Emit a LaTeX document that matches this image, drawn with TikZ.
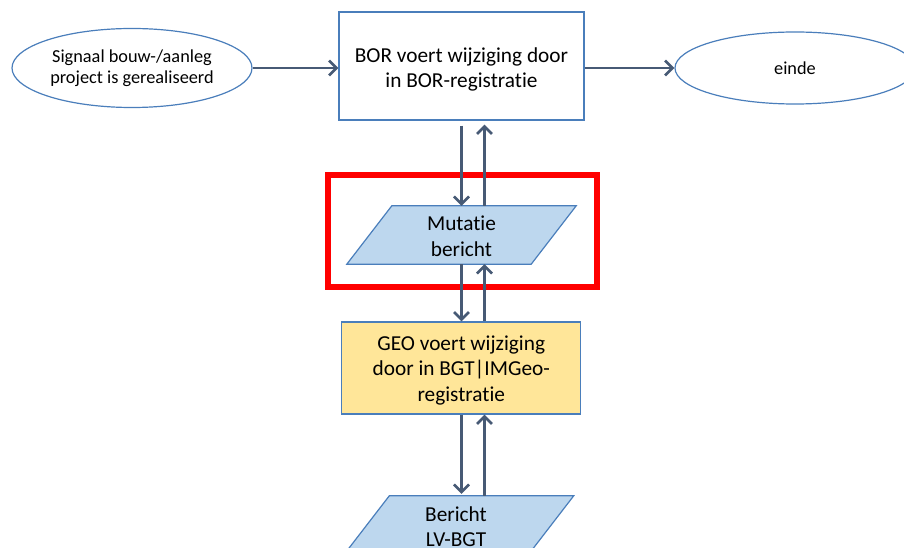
\documentclass[tikz,border=0pt]{standalone}
\usepackage{fontspec}
\setmainfont{Carlito}[Ligatures=NoCommon]
\usetikzlibrary{shapes.geometric,arrows.meta,calc}

\definecolor{shapeblue}{HTML}{4A7EBB}
\definecolor{flowarrow}{HTML}{475A75}
\definecolor{msgfill}{HTML}{BDD7EE}
\definecolor{geofill}{HTML}{FFE699}

\tikzset{
  bigtext/.style={font=\fontsize{21.3}{25.5}\selectfont, align=center},
  smalltext/.style={font=\fontsize{18.3}{21}\selectfont, align=center},
  eventnode/.style={ellipse, draw=shapeblue, line width=1.2pt, fill=white, inner sep=0pt, smalltext},
  procbox/.style={rectangle, draw=shapeblue, line width=1.2pt, inner sep=0pt, bigtext},
  msgnode/.style={rectangle, draw=none, inner sep=0pt, minimum width=184pt, minimum height=58pt, bigtext},
  msgshape/.style={fill=msgfill, draw=shapeblue, line width=1.2pt},
  flow/.style={draw=flowarrow, line width=2.8pt, -{Straight Barb[length=7.5pt,width=15pt,line width=2.6pt]}},
  highlight/.style={rectangle, draw=red, line width=6pt, inner sep=0pt}
}

\begin{document}
\begin{tikzpicture}[x=1pt, y=-1pt]
  \useasboundingbox (0,0) rectangle (904,548);
  \clip (0,0) rectangle (904,548);

  % start and end events
  \node[eventnode, minimum width=240pt, minimum height=79pt] (sig) at (132,68)
    {Signaal bouw-/aanleg\\project is gerealiseerd};
  \node[eventnode, minimum width=240pt, minimum height=72pt] (einde) at (795,68) {einde};

  % process steps
  \node[procbox, minimum width=245pt, minimum height=108pt] (bor) at (461.5,66) {};
  \node[bigtext] (bortext) at ($(bor.center)+(0,3.5)$) {BOR voert wijziging door\\in BOR-registratie};
  \node[procbox, fill=geofill, minimum width=239pt, minimum height=92pt] (geo) at (461.25,368) {};
  \node[bigtext] (geotext) at ($(geo.center)+(0,2)$) {GEO voert wijziging\\door in BGT|IMGeo-\\registratie};

  % messages: parallelograms drawn around text nodes
  \node[msgnode] (mut) at (461.5,235) {};
  \path[msgshape]
    ([xshift=22.5pt]mut.north west) -- ([xshift=22.5pt]mut.north east)
    -- ([xshift=-22.5pt]mut.south east) -- ([xshift=-22.5pt]mut.south west) -- cycle;
  \node[bigtext] (muttext) at ($(mut.center)+(0,1.5)$) {Mutatie\\bericht};

  \node[msgnode] (ber) at (459,525) {};
  \path[msgshape]
    ([xshift=22.5pt]ber.north west) -- ([xshift=22.5pt]ber.north east)
    -- ([xshift=-22.5pt]ber.south east) -- ([xshift=-22.5pt]ber.south west) -- cycle;
  \node[bigtext] (bertext) at ($(ber.center)+(-3,1.5)$) {Bericht\\LV-BGT};

  % highlight frame
  \node[highlight, minimum width=269pt, minimum height=112.5pt] (hl) at (462.5,231) {};

  % horizontal flows
  \draw[flow] (sig.east) -- (sig.east -| bor.west);
  \draw[flow] (bor.east |- einde.west) -- (einde.west);

  % vertical flows
  \draw[flow, shorten <=5pt] (bor.south) -- (bor.south |- mut.north);
  \draw[flow, shorten >=4pt] ([xshift=23pt]bor.south |- mut.north) -- ([xshift=23pt]bor.south);
  \draw[flow] (bor.south |- mut.south) -- (bor.south |- geo.north);
  \draw[flow] ([xshift=23pt]bor.south |- geo.north) -- ([xshift=23pt]bor.south |- mut.south);
  \draw[flow, shorten >=2pt] (bor.south |- geo.south) -- (bor.south |- ber.north);
  \draw[flow] ([xshift=23pt]bor.south |- ber.north) -- ([xshift=23pt]bor.south |- geo.south);
\end{tikzpicture}
\end{document}
